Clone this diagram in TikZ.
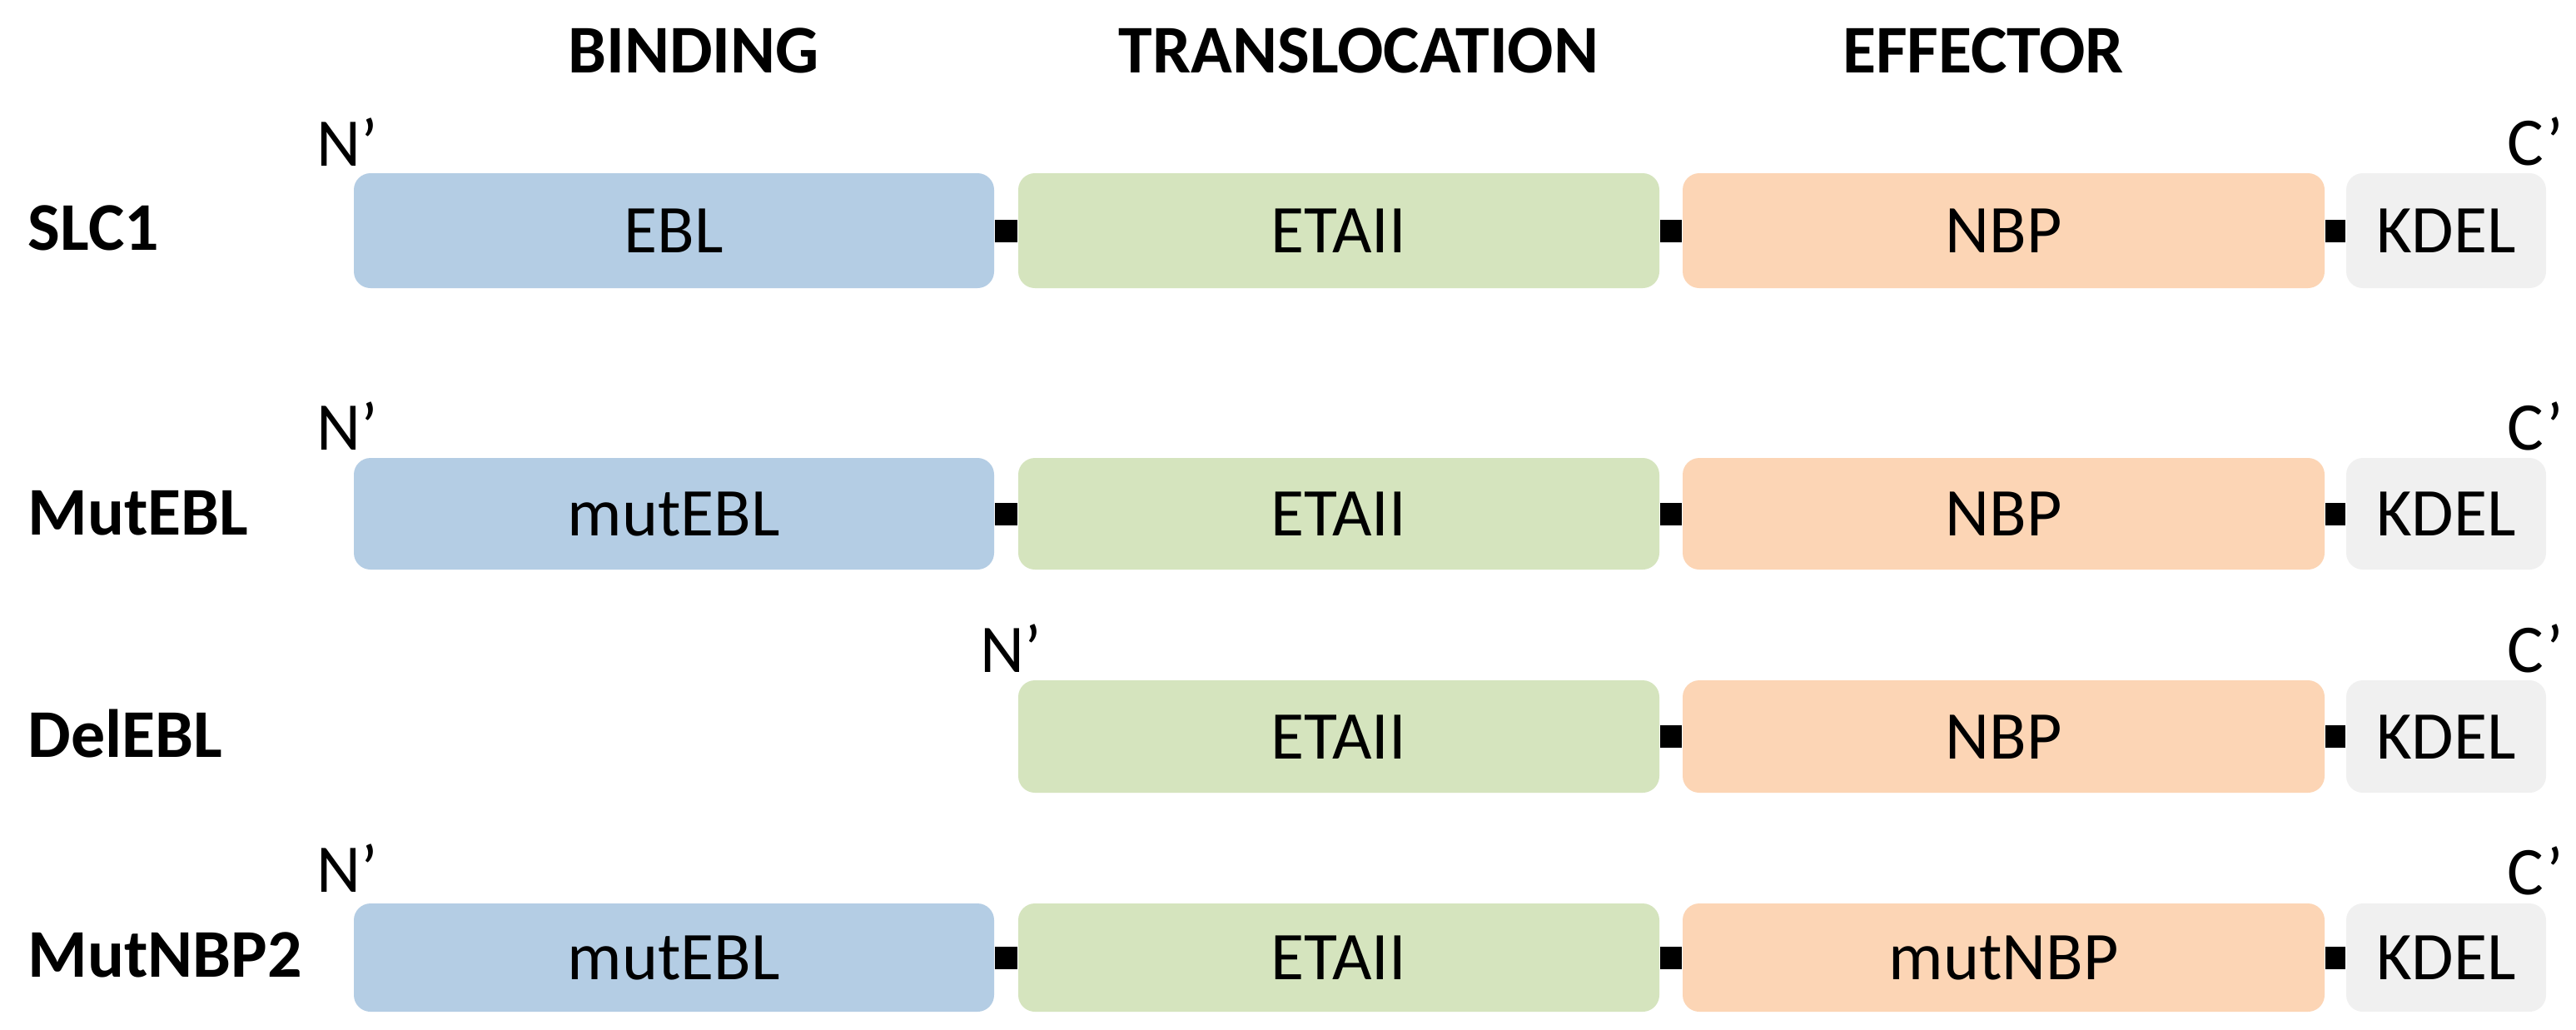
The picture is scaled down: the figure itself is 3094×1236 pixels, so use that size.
\documentclass[tikz,border=0pt]{standalone}
\usepackage{fontspec}
\setmainfont{Carlito}
\definecolor{eblc}{HTML}{B4CDE4}
\definecolor{etac}{HTML}{D5E4BE}
\definecolor{nbpc}{HTML}{FCD5B5}
\definecolor{kdelc}{HTML}{F0F0F0}
\newcommand\fsz{\fontsize{20.5pt}{24pt}\selectfont}
\begin{document}
\begin{tikzpicture}[x=0.25pt,y=-0.25pt,
  dom/.style={rectangle, rounded corners=5pt, inner sep=0pt, draw=none,
    text height=13.25pt, text depth=0pt, font=\fsz},
  bdom/.style={dom, fill=eblc, minimum width=192.25pt},
  gdom/.style={dom, fill=etac, minimum width=192.5pt},
  odom/.style={dom, fill=nbpc, minimum width=192.75pt},
  kdom/.style={dom, fill=kdelc, minimum width=60pt},
  link/.style={line width=6.75pt, black},
  end/.style={anchor=base west, inner sep=0pt, font=\fsz},
  cend/.style={anchor=base east, inner sep=0pt, font=\fsz},
  rowlab/.style={anchor=base west, inner sep=0pt, font=\fsz\bfseries},
  head/.style={anchor=base, inner sep=0pt, font=\fsz\bfseries}]
\useasboundingbox (0,0) rectangle (3094,1236);
\fill[white] (0,0) rectangle (3094,1236);

% headings
\node[head] (h1) at (833,87) {BINDING};
\node[head] (h2) at (1632,87) {TRANSLOCATION};
\node[head] (h3) at (2382,87) {EFFECTOR};

% row 1
\node[rowlab] (l1) at (33,300) {SLC1};
\node[end] (n1) at (380,199) {N’};
\node[cend] (c1) at (3080,198) {C’};
\node[bdom, minimum height=34.5pt] (a1) at (809.5,277) {EBL};
\node[gdom, minimum height=34.5pt] (b1) at (1608,277) {ETAII};
\node[odom, minimum height=34.5pt] (o1) at (2406.5,277) {NBP};
\node[kdom, minimum height=34.5pt] (k1) at (2938,277) {KDEL};
\draw[link] (a1.east) -- (b1.west);
\draw[link] (b1.east) -- (o1.west);
\draw[link] (o1.east) -- (k1.west);

% row 2
\node[rowlab] (l2) at (33,642) {MutEBL};
\node[end] (n2) at (380,540) {N’};
\node[cend] (c2) at (3080,540) {C’};
\node[bdom, minimum height=33.5pt] (a2) at (809.5,617) {mutEBL};
\node[gdom, minimum height=33.5pt] (b2) at (1608,617) {ETAII};
\node[odom, minimum height=33.5pt] (o2) at (2406.5,617) {NBP};
\node[kdom, minimum height=33.5pt] (k2) at (2938,617) {KDEL};
\draw[link] (a2.east) -- (b2.west);
\draw[link] (b2.east) -- (o2.west);
\draw[link] (o2.east) -- (k2.west);

% row 3
\node[rowlab] (l3) at (33,909) {DelEBL};
\node[end] (n3) at (1177,807) {N’};
\node[cend] (c3) at (3080,807) {C’};
\node[gdom, minimum height=33.75pt] (b3) at (1608,884.5) {ETAII};
\node[odom, minimum height=33.75pt] (o3) at (2406.5,884.5) {NBP};
\node[kdom, minimum height=33.75pt] (k3) at (2938,884.5) {KDEL};
\draw[link] (b3.east) -- (o3.west);
\draw[link] (o3.east) -- (k3.west);

% row 4
\node[rowlab] (l4) at (33,1173) {MutNBP2};
\node[end] (n4) at (380,1071) {N’};
\node[cend] (c4) at (3080,1074) {C’};
\node[bdom, minimum height=32.5pt] (a4) at (809.5,1150) {mutEBL};
\node[gdom, minimum height=32.5pt] (b4) at (1608,1150) {ETAII};
\node[odom, minimum height=32.5pt] (o4) at (2406.5,1150) {mutNBP};
\node[kdom, minimum height=32.5pt] (k4) at (2938,1150) {KDEL};
\draw[link] (a4.east) -- (b4.west);
\draw[link] (b4.east) -- (o4.west);
\draw[link] (o4.east) -- (k4.west);
\end{tikzpicture}
\end{document}
